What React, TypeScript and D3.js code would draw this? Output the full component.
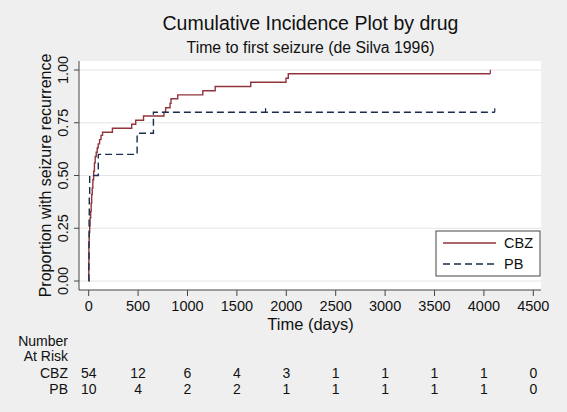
import React from "react";
import * as d3 from "d3";

const W = 567;
const H = 412;

const xTicks = [0, 500, 1000, 1500, 2000, 2500, 3000, 3500, 4000, 4500];
const yTicks = [0, 0.25, 0.5, 0.75, 1.0];

// Step data: [time, cumulative incidence]
const cbzTimes = [0, 1, 2, 4, 6, 10, 14, 20, 25, 30, 36, 42, 50, 58, 66, 76, 86, 96, 110, 125, 140, 240, 435, 476, 555, 762, 779, 823, 833, 901, 1155, 1280, 1640, 1997, 2020, 4065];
const cbzValues = [0, 0.09, 0.17, 0.2, 0.23, 0.26, 0.3, 0.33, 0.37, 0.41, 0.44, 0.48, 0.52, 0.56, 0.59, 0.61, 0.63, 0.65, 0.67, 0.69, 0.705, 0.724, 0.743, 0.762, 0.782, 0.80, 0.821, 0.842, 0.864, 0.882, 0.902, 0.922, 0.942, 0.961, 0.982, 0.982];
const pbTimes = [0, 2, 3, 4, 6, 10, 97, 490, 655, 4110];
const pbValues = [0, 0.1, 0.2, 0.3, 0.4, 0.5, 0.6, 0.7, 0.8, 0.8];
const cbzCensor = [4065];
const pbCensor = [1790, 4110];

const riskGroups = ["CBZ", "PB"];
const cbzAtRisk = [54, 12, 6, 4, 3, 1, 1, 1, 1, 0];
const pbAtRisk = [10, 4, 2, 2, 1, 1, 1, 1, 1, 0];

const CBZ_COLOR = "#90353b";
const PB_COLOR = "#1a2d4f";
const FONT = "'Liberation Sans', Arial, sans-serif";

export default function App() {
  const x = d3.scaleLinear().domain([0, 4500]).range([88.7, 533.3]);
  const y = d3.scaleLinear().domain([0, 1]).range([281, 70]);
  const plot = { l: 79, r: 541, t: 61, b: 290 };

  const line = d3
    .line<[number, number]>()
    .x((d) => x(d[0]))
    .y((d) => y(d[1]))
    .curve(d3.curveStepAfter);

  const cbzData: [number, number][] = cbzTimes.map((t, i) => [t, cbzValues[i]]);
  const pbData: [number, number][] = pbTimes.map((t, i) => [t, pbValues[i]]);

  const valueAt = (times: number[], vals: number[], t: number) => {
    let v = 0;
    for (let i = 0; i < times.length; i++) if (times[i] <= t) v = vals[i];
    return v;
  };

  const riskRows = [cbzAtRisk, pbAtRisk];
  const rowY = [378, 394];

  return (
    <svg
      width={W}
      height={H}
      style={{ position: "fixed", left: 0, top: 0, display: "block" }}
      fontFamily={FONT}
    >
      <rect x={0} y={0} width={W} height={H} fill="#efefef" />
      <rect x={plot.l} y={plot.t} width={plot.r - plot.l} height={plot.b - plot.t} fill="#ffffff" />

      {/* gridlines */}
      {yTicks.map((t) => (
        <line key={"g" + t} x1={plot.l} x2={plot.r} y1={y(t)} y2={y(t)} stroke="#e4e4e4" strokeWidth={1} />
      ))}

      {/* axes */}
      <line x1={plot.l} x2={plot.l} y1={plot.t} y2={plot.b} stroke="#444" strokeWidth={1} />
      <line x1={plot.l} x2={plot.r} y1={plot.b} y2={plot.b} stroke="#444" strokeWidth={1} />

      {yTicks.map((t) => (
        <g key={"yt" + t}>
          <line x1={plot.l - 5} x2={plot.l} y1={y(t)} y2={y(t)} stroke="#444" />
          <text
            transform={`translate(${68},${y(t)}) rotate(-90)`}
            textAnchor="middle"
            fontSize={14.5}
            fill="#111"
          >
            {d3.format(".2f")(t)}
          </text>
        </g>
      ))}

      {xTicks.map((t) => (
        <g key={"xt" + t}>
          <line x1={x(t)} x2={x(t)} y1={plot.b} y2={plot.b + 6} stroke="#444" />
          <text x={x(t)} y={311} textAnchor="middle" fontSize={14.5} fill="#111">
            {t}
          </text>
        </g>
      ))}

      {/* axis titles */}
      <text x={310.5} y={330} textAnchor="middle" fontSize={16.5} fill="#111">
        Time (days)
      </text>
      <text
        transform={`translate(${51},${175.5}) rotate(-90)`}
        textAnchor="middle"
        fontSize={16}
        fill="#111"
      >
        Proportion with seizure recurrence
      </text>

      {/* titles */}
      <text x={310.5} y={30} textAnchor="middle" fontSize={19.5} fill="#111">
        Cumulative Incidence Plot by drug
      </text>
      <text x={310.5} y={53} textAnchor="middle" fontSize={15.8} fill="#111">
        Time to first seizure (de Silva 1996)
      </text>

      {/* curves */}
      <path d={line(cbzData) || ""} fill="none" stroke={CBZ_COLOR} strokeWidth={1.4} />
      <path d={line(pbData) || ""} fill="none" stroke={PB_COLOR} strokeWidth={1.4} strokeDasharray="7,4" />
      {cbzCensor.map((t) => (
        <line key={"cc" + t} x1={x(t)} x2={x(t)} y1={y(valueAt(cbzTimes, cbzValues, t))} y2={y(valueAt(cbzTimes, cbzValues, t)) - 4} stroke={CBZ_COLOR} strokeWidth={1.2} />
      ))}
      {pbCensor.map((t) => (
        <line key={"pc" + t} x1={x(t)} x2={x(t)} y1={y(valueAt(pbTimes, pbValues, t))} y2={y(valueAt(pbTimes, pbValues, t)) - 4} stroke={PB_COLOR} strokeWidth={1.2} />
      ))}

      {/* legend */}
      <rect x={436} y={231} width={104} height={45} fill="#fff" stroke="#444" strokeWidth={1} />
      <line x1={443} x2={496} y1={243} y2={243} stroke={CBZ_COLOR} strokeWidth={1.4} />
      <line x1={443} x2={496} y1={264} y2={264} stroke={PB_COLOR} strokeWidth={1.4} strokeDasharray="7,4" />
      <text x={504} y={248} fontSize={14.5} fill="#111">CBZ</text>
      <text x={504} y={269} fontSize={14.5} fill="#111">PB</text>

      {/* number at risk */}
      <text x={68} y={346} textAnchor="end" fontSize={14} fill="#111">Number</text>
      <text x={68} y={361} textAnchor="end" fontSize={14} fill="#111">At Risk</text>
      {riskGroups.map((g, gi) => (
        <g key={g}>
          <text x={68} y={rowY[gi]} textAnchor="end" fontSize={14} fill="#111">{g}</text>
          {riskRows[gi].map((n, i) => (
            <text key={i} x={x(xTicks[i])} y={rowY[gi]} textAnchor="middle" fontSize={14} fill="#111">
              {n}
            </text>
          ))}
        </g>
      ))}
    </svg>
  );
}
